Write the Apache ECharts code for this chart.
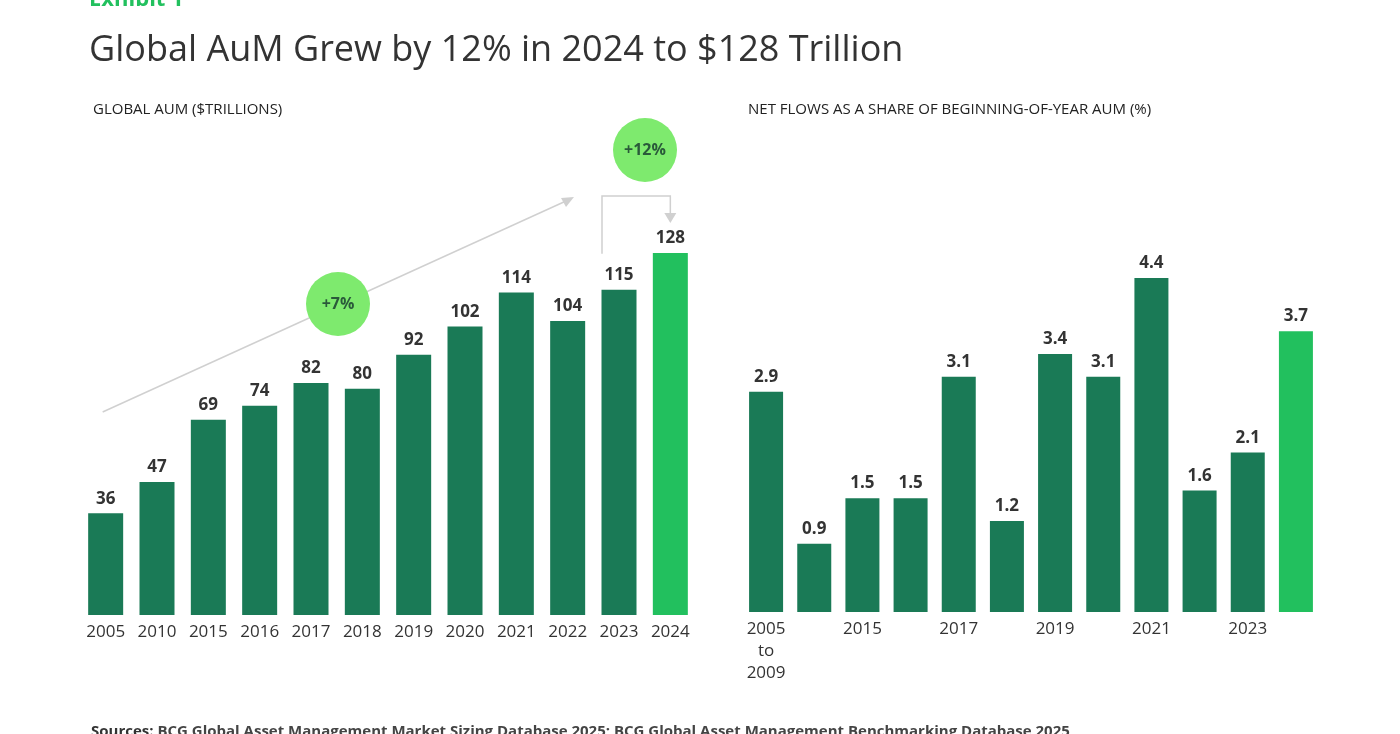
<!DOCTYPE html>
<html><head><meta charset="utf-8">
<script src="https://cdn.jsdelivr.net/npm/echarts@6/dist/echarts.min.js"></script>
<style>html,body{margin:0;padding:0;background:#fff}#c{width:1400px;height:734px}</style>
</head><body><div id="c"></div>
<script>
const aumYears = ['2005','2010','2015','2016','2017','2018','2019','2020','2021','2022','2023','2024'];
const aumValues = [36,47,69,74,82,80,92,102,114,104,115,128];
const flowCats = ['2005\nto\n2009','2010\nto\n2014','2015','2016','2017','2018','2019','2020','2021','2022','2023','2024'];
const flowValues = [2.9,0.9,1.5,1.5,3.1,1.2,3.4,3.1,4.4,1.6,2.1,3.7];
const DARK='#1a7a56', BRIGHT='#22c05e', BUB='#7eea6e';
const FONT='"Open Sans", "Noto Sans", sans-serif';
function col(arr){return arr.map((v,i)=>({value:v,itemStyle:{color:i===arr.length-1?BRIGHT:DARK}}));}
const chart = echarts.init(document.getElementById('c'));
const lbl = {show:true,position:'top',fontFamily:FONT,fontWeight:'bold',fontSize:17,color:'#333',distance:6,
  formatter:p=>String(p.value)};
const axisLbl = {fontFamily:FONT,fontSize:17,color:'#333',margin:6,lineHeight:22};
chart.setOption({
  animation:false,
  title:[
    {text:'Exhibit 1',left:84,top:-16,textStyle:{fontFamily:FONT,fontSize:22,fontWeight:'bold',color:'#22c05e'}},
    {text:'Global AuM Grew by 12% in 2024 to $128 Trillion',left:84,top:28,textStyle:{fontFamily:FONT,fontSize:36,fontWeight:'normal',color:'#333'}},
    {text:'GLOBAL AUM ($TRILLIONS)',left:88,top:97,textStyle:{fontFamily:FONT,fontSize:15,fontWeight:'normal',color:'#222'}},
    {text:'NET FLOWS AS A SHARE OF BEGINNING-OF-YEAR AUM (%)',left:743,top:97,textStyle:{fontFamily:FONT,fontSize:15,fontWeight:'normal',color:'#222'}},
    {text:'{b|Sources:} BCG Global Asset Management Market Sizing Database 2025; BCG Global Asset Management Benchmarking Database 2025',left:86,top:719,
      textStyle:{fontFamily:FONT,fontSize:15,color:'#444',rich:{b:{fontFamily:FONT,fontSize:15,fontWeight:'bold',color:'#333'}}}}
  ],
  grid:[
    {left:80,width:616,top:253,height:362},
    {left:742,width:578,top:278,height:334}
  ],
  xAxis:[
    {gridIndex:0,type:'category',data:aumYears,axisLine:{show:false},axisTick:{show:false},axisLabel:axisLbl},
    {gridIndex:1,type:'category',data:flowCats,axisLine:{show:false},axisTick:{show:false},axisLabel:axisLbl}
  ],
  yAxis:[
    {gridIndex:0,type:'value',min:0,max:128,show:false,splitLine:{show:false}},
    {gridIndex:1,type:'value',min:0,max:4.4,show:false,splitLine:{show:false}}
  ],
  series:[
    {type:'bar',xAxisIndex:0,yAxisIndex:0,data:col(aumValues),barWidth:35,label:lbl},
    {type:'bar',xAxisIndex:1,yAxisIndex:1,data:col(flowValues),barWidth:34,label:lbl}
  ]
});
// annotations positioned from the axes
const p0 = chart.convertToPixel({xAxisIndex:0,yAxisIndex:0},['2005',0]);
const p23 = chart.convertToPixel({xAxisIndex:0,yAxisIndex:0},['2023',aumValues[10]]);
const p24 = chart.convertToPixel({xAxisIndex:0,yAxisIndex:0},['2024',aumValues[11]]);
const gray='#d0d0d0';
chart.setOption({graphic:[
  {type:'line',shape:{x1:p0[0]-3,y1:412,x2:566,y2:201},style:{stroke:gray,lineWidth:1.5}},
  {type:'polygon',shape:{points:[[574,197],[561,198],[566,207]]},style:{fill:gray}},
  {type:'circle',shape:{cx:338,cy:304,r:32},style:{fill:BUB}},
  {type:'text',x:338,y:304,style:{text:'+7%',fontFamily:FONT,fontSize:16,fontWeight:'bold',fill:'#2a5a3a',align:'center',verticalAlign:'middle'}},
  {type:'polyline',shape:{points:[[p23[0]-17,p23[1]-36],[p23[0]-17,196],[p24[0],196],[p24[0],214]]},style:{stroke:gray,lineWidth:1.5,fill:null}},
  {type:'polygon',shape:{points:[[p24[0]-6,213],[p24[0]+6,213],[p24[0],223]]},style:{fill:gray}},
  {type:'circle',shape:{cx:645,cy:150,r:32},style:{fill:BUB}},
  {type:'text',x:645,y:150,style:{text:'+12%',fontFamily:FONT,fontSize:16,fontWeight:'bold',fill:'#2a5a3a',align:'center',verticalAlign:'middle'}}
]});
</script></body></html>
